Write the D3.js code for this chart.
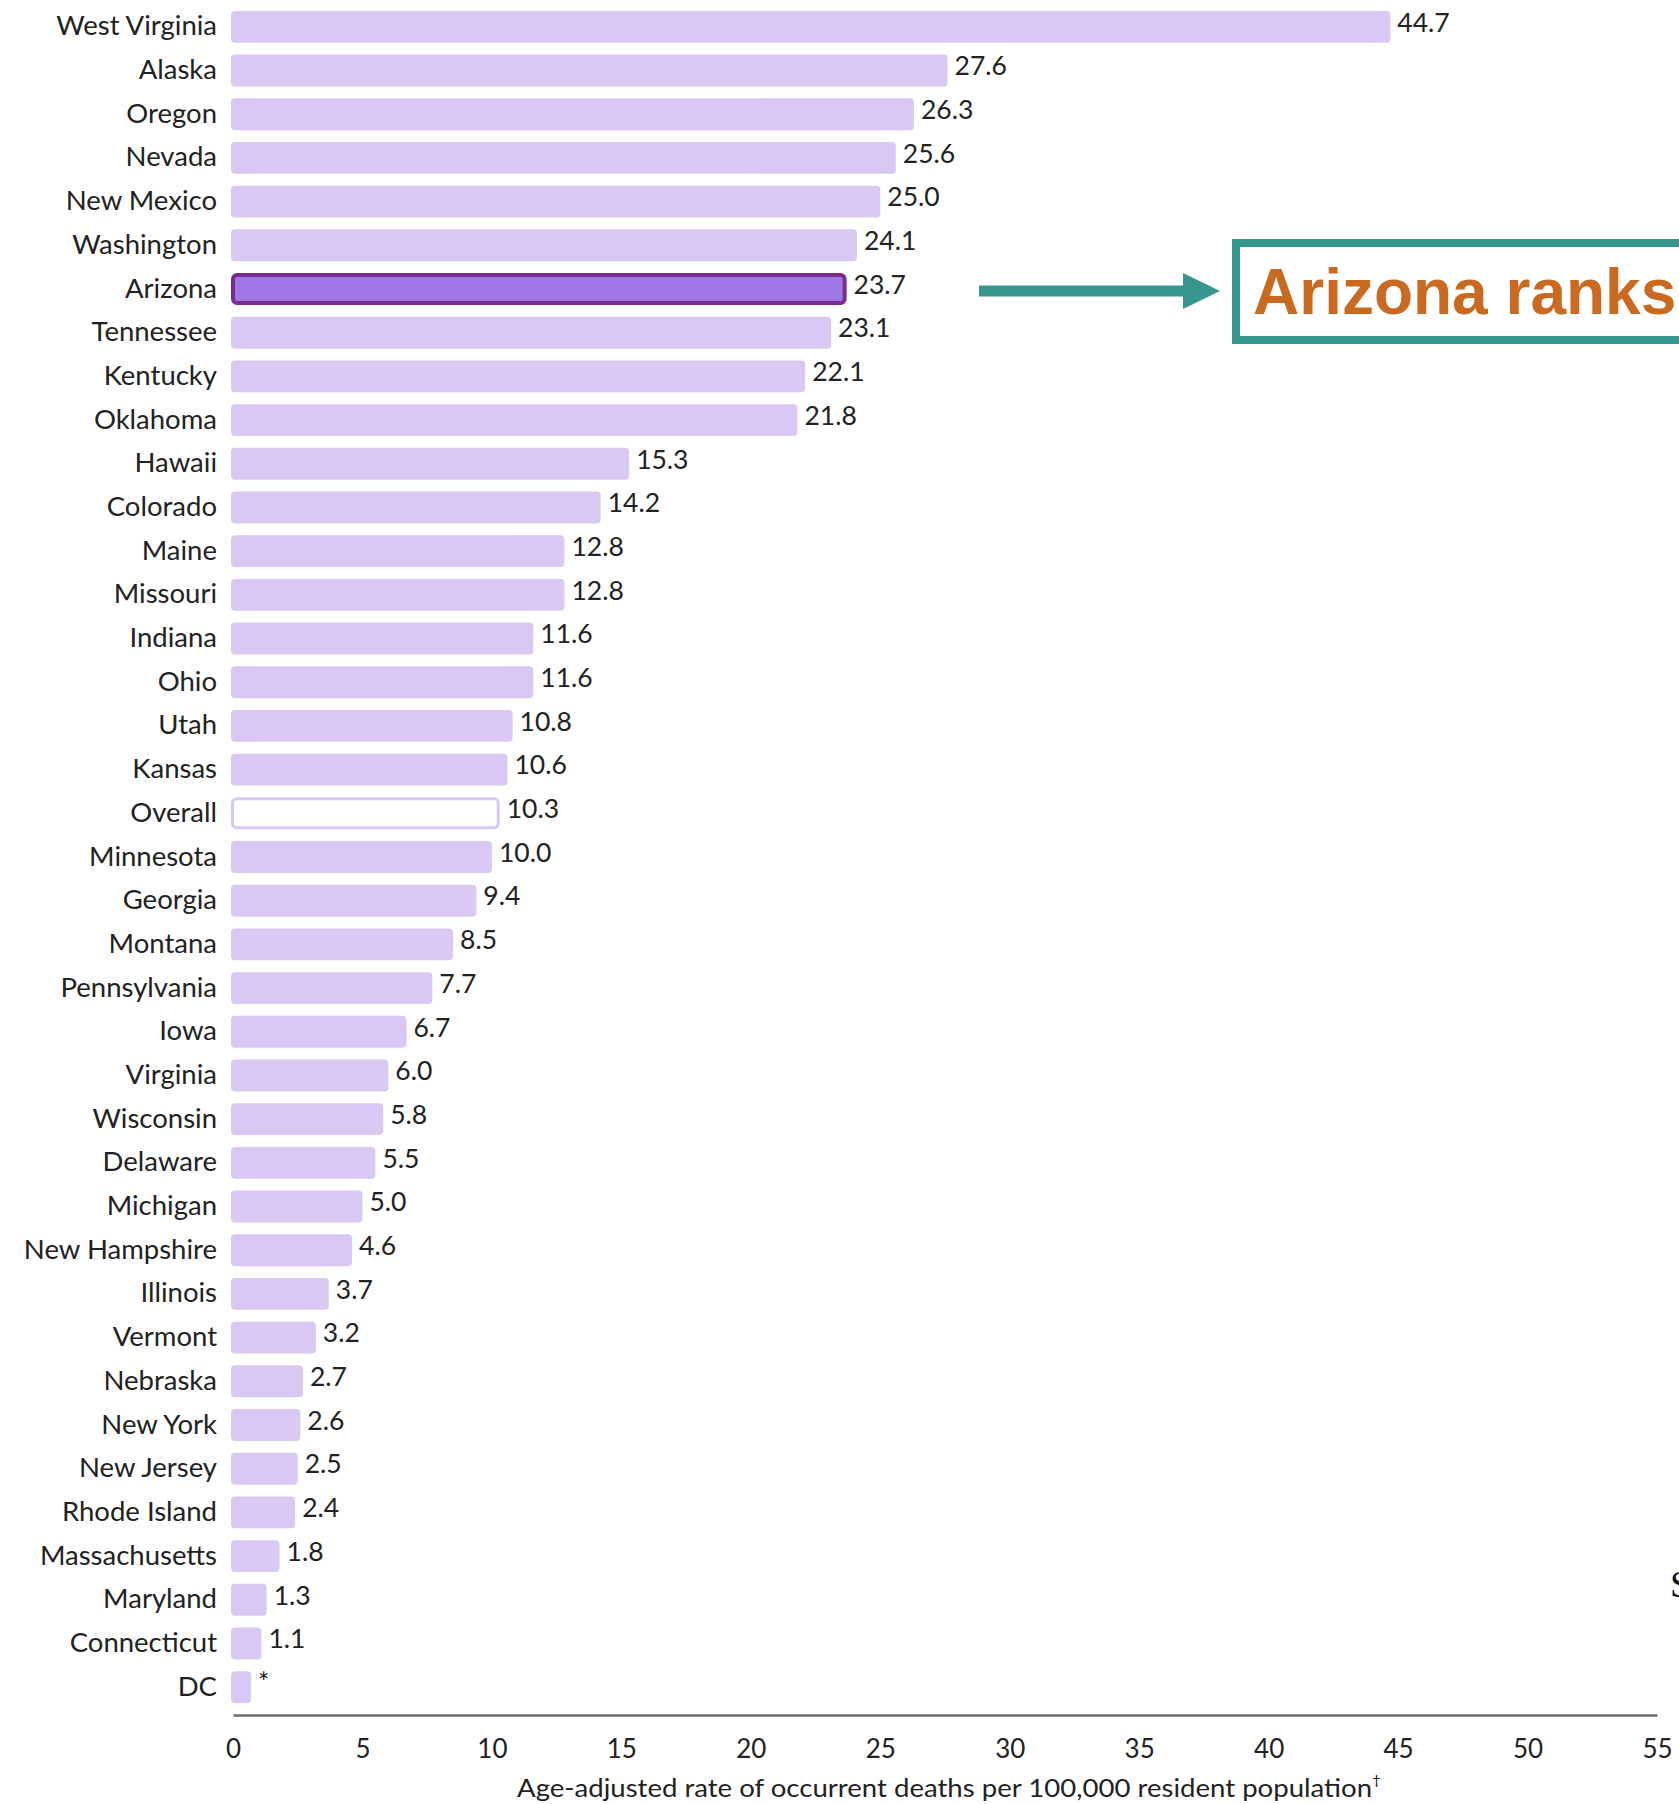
<!DOCTYPE html>
<html>
<head>
<meta charset="utf-8">
<script src="https://cdn.jsdelivr.net/npm/d3@7"></script>
<style>
  html, body { margin: 0; padding: 0; background: #fff; }
  svg { display: block; }
</style>
</head>
<body>
<svg id="chart" width="1679" height="1804"></svg>
<script>
const states = ["West Virginia","Alaska","Oregon","Nevada","New Mexico","Washington","Arizona","Tennessee","Kentucky","Oklahoma","Hawaii","Colorado","Maine","Missouri","Indiana","Ohio","Utah","Kansas","Overall","Minnesota","Georgia","Montana","Pennsylvania","Iowa","Virginia","Wisconsin","Delaware","Michigan","New Hampshire","Illinois","Vermont","Nebraska","New York","New Jersey","Rhode Island","Massachusetts","Maryland","Connecticut","DC"];
const rates = [44.7,27.6,26.3,25.6,25.0,24.1,23.7,23.1,22.1,21.8,15.3,14.2,12.8,12.8,11.6,11.6,10.8,10.6,10.3,10.0,9.4,8.5,7.7,6.7,6.0,5.8,5.5,5.0,4.6,3.7,3.2,2.7,2.6,2.5,2.4,1.8,1.3,1.1,0.7];
const valueLabels = ["44.7","27.6","26.3","25.6","25.0","24.1","23.7","23.1","22.1","21.8","15.3","14.2","12.8","12.8","11.6","11.6","10.8","10.6","10.3","10.0","9.4","8.5","7.7","6.7","6.0","5.8","5.5","5.0","4.6","3.7","3.2","2.7","2.6","2.5","2.4","1.8","1.3","1.1","*"];
const xTicks = [0,5,10,15,20,25,30,35,40,45,50,55];
const xTitle = "Age-adjusted rate of occurrent deaths per 100,000 resident population";
const highlight = "Arizona";
const overall = "Overall";
const annotationText = "Arizona ranks";

const svg = d3.select("#chart");
const labelFont = "Lato, 'Noto Sans', sans-serif";

const x = d3.scaleLinear().domain([0, 55]).range([233, 1657]);
const y = d3.scaleBand().domain(states).range([5, 1709]).paddingInner(0.27).paddingOuter(0.135);

const data = states.map((s, i) => ({ state: s, rate: rates[i], label: valueLabels[i] }));
const sw = d => d.state === highlight ? 4 : d.state === overall ? 3 : 0;

// bars
svg.append("g").selectAll("rect")
  .data(data)
  .join("rect")
  .attr("x", d => x(0) - 2 + sw(d) / 2)
  .attr("y", d => y(d.state) + sw(d) / 2)
  .attr("width", d => x(d.rate) - x(0) + 2 - sw(d))
  .attr("height", d => y.bandwidth() - sw(d))
  .attr("rx", 4)
  .attr("fill", d => d.state === highlight ? "#a077e6" : d.state === overall ? "#ffffff" : "#dac8f4")
  .attr("stroke", d => d.state === highlight ? "#7a2c8c" : d.state === overall ? "#dac8f4" : "none")
  .attr("stroke-width", d => sw(d));

// state labels
svg.append("g").selectAll("text")
  .data(data)
  .join("text")
  .attr("x", 217)
  .attr("y", d => y(d.state) + y.bandwidth() / 2)
  .attr("dy", "0.31em")
  .attr("text-anchor", "end")
  .attr("font-family", labelFont)
  .attr("font-size", 27.5)
  .attr("fill", "#222")
  .text(d => d.state);

// value labels
svg.append("g").selectAll("text")
  .data(data)
  .join("text")
  .attr("x", d => x(d.rate) + 7)
  .attr("y", d => y(d.state) + y.bandwidth() / 2)
  .attr("dy", "0.18em")
  .attr("font-family", labelFont)
  .attr("font-size", 26.5)
  .attr("fill", "#222")
  .text(d => d.label);

// x axis
const axisY = 1715;
const axis = svg.append("g")
  .attr("transform", `translate(0,${axisY})`)
  .call(d3.axisBottom(x).tickValues(xTicks).tickSize(0).tickPadding(43).tickFormat(d3.format("d")));
axis.select(".domain").attr("stroke", "#6b6b6b").attr("stroke-width", 2.5);
axis.selectAll(".tick text")
  .attr("font-family", labelFont)
  .attr("font-size", 26)
  .attr("fill", "#222")
  .attr("dy", 0);

// axis title
const title = svg.append("text")
  .attr("x", (x(0) + x(55)) / 2 + 4)
  .attr("y", 1797)
  .attr("text-anchor", "middle")
  .attr("font-family", labelFont)
  .attr("font-size", 25)
  .attr("fill", "#222")
  .attr("textLength", 864)
  .attr("lengthAdjust", "spacingAndGlyphs");
title.append("tspan").text(xTitle);
title.append("tspan").attr("font-size", 14).attr("dy", -12).text("†");

// annotation
const yc = y(highlight) + y.bandwidth() / 2 + 2;
const teal = "#37968e";
svg.append("line")
  .attr("x1", 979).attr("x2", 1190)
  .attr("y1", yc).attr("y2", yc)
  .attr("stroke", teal).attr("stroke-width", 11);
svg.append("path")
  .attr("d", `M1183,${yc - 18} L1220,${yc} L1183,${yc + 18} Z`)
  .attr("fill", teal);
svg.append("rect")
  .attr("x", 1236).attr("y", yc - 48)
  .attr("width", 520).attr("height", 97)
  .attr("fill", "none")
  .attr("stroke", teal).attr("stroke-width", 8);
svg.append("text")
  .attr("x", 1253).attr("y", yc + 23)
  .attr("font-family", "'Liberation Sans', Arial, sans-serif")
  .attr("font-weight", "bold")
  .attr("font-size", 64)
  .attr("fill", "#c96a20")
  .text(annotationText);

// fragment of a cut-off letter at the right edge (as in the source)
svg.append("text")
  .attr("x", 1670).attr("y", 1597)
  .attr("font-family", "'Liberation Serif', 'Times New Roman', serif")
  .attr("font-size", 38)
  .attr("fill", "#111")
  .text("S");
</script>
</body>
</html>
